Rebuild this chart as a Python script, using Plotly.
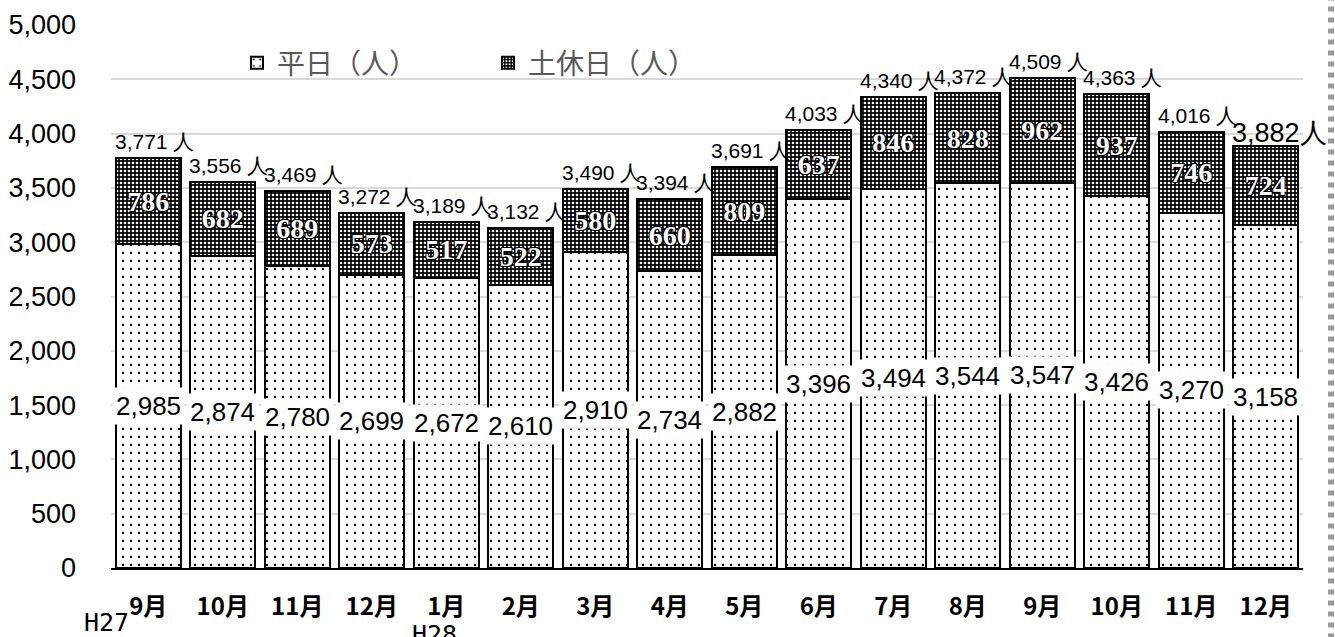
import plotly.graph_objects as go

months = ["9月", "10月", "11月", "12月", "1月", "2月", "3月", "4月",
          "5月", "6月", "7月", "8月", "9月", "10月", "11月", "12月"]
weekday = [2985, 2874, 2780, 2699, 2672, 2610, 2910, 2734,
           2882, 3396, 3494, 3544, 3547, 3426, 3270, 3158]
weekend = [786, 682, 689, 573, 517, 522, 580, 660,
           809, 637, 846, 828, 962, 937, 746, 724]
totals = [3771, 3556, 3469, 3272, 3189, 3132, 3490, 3394,
          3691, 4033, 4340, 4372, 4509, 4363, 4016, 3882]
y_ticks = [0, 500, 1000, 1500, 2000, 2500, 3000, 3500, 4000, 4500, 5000]
era_labels = ["H27", "H28"]

xs = list(range(len(months)))
SANS = "Liberation Sans, Arial, sans-serif"
GOTHIC = "Noto Sans CJK JP, sans-serif"

fig = go.Figure()
fig.add_trace(go.Bar(
    x=xs, y=weekday, name="平日（人）",
    marker=dict(color="white", line=dict(color="black", width=2),
                pattern=dict(shape=".", fgcolor="black", bgcolor="white",
                             size=8, solidity=0.07, fillmode="replace")),
    hoverinfo="skip",
))
fig.add_trace(go.Bar(
    x=xs, y=weekend, name="土休日（人）",
    text=[f"{v}" for v in weekend], textposition="inside",
    insidetextanchor="middle", textangle=0, constraintext="none",
    textfont=dict(color="white", size=28, family="Liberation Serif, DejaVu Serif, serif",
                  weight="bold",
                  shadow="-1px -1px 0 #000, 1px -1px 0 #000, -1px 1px 0 #000, 1px 1px 0 #000"),
    marker=dict(color="black", line=dict(color="black", width=2),
                pattern=dict(shape=".", fgcolor="white", bgcolor="black",
                             size=4, solidity=0.35, fillmode="replace")),
    hoverinfo="skip",
))

annotations = []
for i, (w, t) in enumerate(zip(weekday, totals)):
    annotations.append(dict(
        x=i, y=w / 2, xref="x", yref="y", text=f"{w:,}", showarrow=False,
        font=dict(family=SANS, size=26, color="black"),
        bgcolor="white", borderpad=3,
    ))
    last = i == len(totals) - 1
    annotations.append(dict(
        x=i, y=t, xref="x", yref="y", text=f"{t:,} 人" if not last else f"{t:,}人",
        showarrow=False, yanchor="bottom",
        xshift=6 if not last else 14, yshift=3 if not last else -4,
        font=dict(family=SANS, size=21 if not last else 27, color="black"),
    ))

# era labels under the axis
annotations.append(dict(x=0, y=0, xref="x", yref="y", text=era_labels[0], showarrow=False,
                        xshift=-42, yshift=-54, font=dict(family="DejaVu Sans Mono, monospace",
                                                          size=25, color="black")))
annotations.append(dict(x=4, y=0, xref="x", yref="y", text=era_labels[1], showarrow=False,
                        xshift=-12, yshift=-66, font=dict(family="DejaVu Sans Mono, monospace",
                                                          size=25, color="black")))

fig.update_layout(
    width=1335, height=637,
    margin=dict(l=111, r=32, t=25, b=69),
    plot_bgcolor="white", paper_bgcolor="white",
    barmode="stack", bargap=0.13,
    showlegend=True,
    legend=dict(orientation="h", x=0.1057, y=0.93, xanchor="left", yanchor="middle",
                traceorder="normal",
                font=dict(family=GOTHIC, size=28, color="#595959"),
                entrywidth=206, entrywidthmode="pixels",
                bgcolor="rgba(0,0,0,0)", itemwidth=30),
    annotations=annotations,
    shapes=[dict(type="line", xref="paper", yref="paper", x0=1.0235, x1=1.0235,
                 y0=-0.13, y1=1.05, line=dict(color="#9a9a9a", width=6, dash="5px,6px"))],
)
fig.update_xaxes(
    range=[-0.5, len(months) - 0.5], tickmode="array", tickvals=xs, ticktext=months,
    showline=True, linecolor="black", linewidth=2, showgrid=False,
    tickfont=dict(family=GOTHIC, size=24, color="black", weight="bold"),
    ticks="", ticklabelstandoff=16, automargin=False,
)
fig.update_yaxes(
    range=[0, 5000], tickmode="array", tickvals=y_ticks,
    ticktext=[f"{v:,}" for v in y_ticks],
    showgrid=True, gridcolor="#d9d9d9", gridwidth=2, zeroline=False, showline=False,
    tickfont=dict(family=SANS, size=27, color="black"),
    ticks="", ticklabelstandoff=34, automargin=False,
)

fig.write_html("out.html", config={"displayModeBar": False},
               post_script="document.body.style.margin='0';document.body.style.overflow='hidden';")
